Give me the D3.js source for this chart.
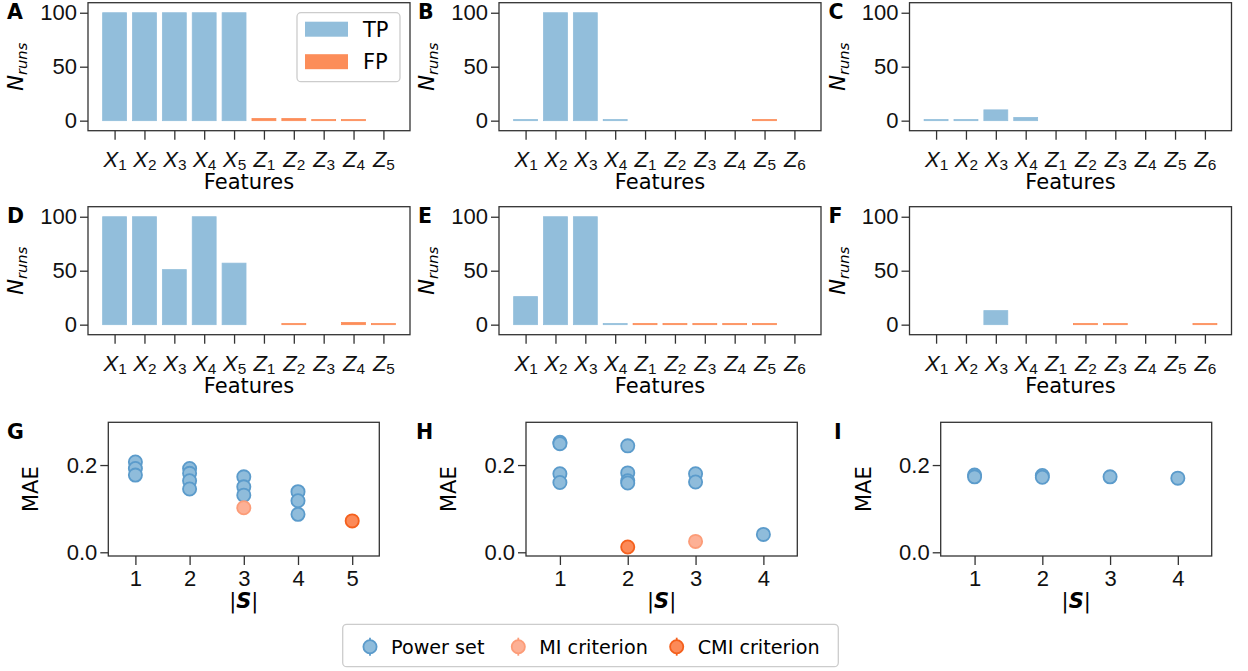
<!DOCTYPE html>
<html>
<head>
<meta charset="utf-8">
<script src="https://cdn.jsdelivr.net/npm/d3@7/dist/d3.min.js"></script>
<style>
  body { margin: 0; background: #fff; }
  svg { display: block; font-family: "DejaVu Sans", sans-serif; }
  .tick line { stroke: #333; stroke-width: 1.3; }
  .tick text { fill: #111; font-size: 22px; }
</style>
</head>
<body>
<div id="chart"></div>
<script>
// ---- data ----
const featA = ["X1", "X2", "X3", "X4", "X5", "Z1", "Z2", "Z3", "Z4", "Z5"]
const featB = ["X1", "X2", "X3", "X4", "Z1", "Z2", "Z3", "Z4", "Z5", "Z6"]

const runsA = [100, 100, 100, 100, 100, 2, 2, 1, 1, 0]
const runsB = [1, 100, 100, 1, 0, 0, 0, 0, 1, 0]
const runsC = [1, 1, 10, 3, 0, 0, 0, 0, 0, 0]
const runsD = [100, 100, 51, 100, 57, 0, 1, 0, 2, 1]
const runsE = [26, 100, 100, 1, 1, 1, 1, 1, 1, 0]
const runsF = [0, 0, 13, 0, 0, 1, 1, 0, 0, 1]

const yTicksRuns = [0, 50, 100]
const yTicksMae = [0.0, 0.2]

// G
const gPowerSize = [1, 1, 1, 2, 2, 2, 2, 3, 3, 3, 4, 4, 4]
const gPowerMae = [0.207, 0.192, 0.177, 0.192, 0.181, 0.164, 0.145, 0.173, 0.150, 0.131, 0.139, 0.118, 0.087]
const gMiSize = [3], gMiMae = [0.102]
const gCmiSize = [5], gCmiMae = [0.072]
// H
const hPowerSize = [1, 1, 1, 1, 2, 2, 2, 2, 3, 3, 4]
const hPowerMae = [0.252, 0.249, 0.180, 0.160, 0.244, 0.182, 0.164, 0.159, 0.180, 0.161, 0.041]
const hMiSize = [3], hMiMae = [0.025]
const hCmiSize = [2], hCmiMae = [0.012]
// I
const iPowerSize = [1, 1, 2, 2, 3, 4]
const iPowerMae = [0.177, 0.173, 0.176, 0.172, 0.173, 0.170]

const legendBar = ["TP", "FP"]
const legendMethods = ["Power set", "MI criterion", "CMI criterion"]

// ---- styles ----
const FONT = 21        // axis labels
const TICK = 22        // tick labels (see css)
const LEG = 19.2       // bottom legend
const colTP = "#92bedb", colFP = "#fc8d59"
const methodStyle = {
  "Power set": { fill: "#8fbcdb", stroke: "#5b9bcb" },
  "MI criterion": { fill: "#fdb095", stroke: "#fc9c78" },
  "CMI criterion": { fill: "#fc8a58", stroke: "#f4601d" }
}

const svg = d3.select("#chart").append("svg")
  .attr("width", 1248)
  .attr("height", 671)

const AppendG = (parent, left, top, className = "") => {
  return parent.append("g")
    .attr("transform", "translate(" + left + "," + top + ")")
    .attr("class", className)
}

function styleAxis(g) {
  g.select(".domain").remove()
}

function panelLetter(letter, x, y) {
  svg.append("text")
    .attr("x", x).attr("y", y)
    .attr("font-size", 20.5)
    .attr("font-weight", "bold")
    .text(letter)
}

function drawFrame(left, top, right, bottom) {
  svg.append("rect")
    .attr("x", left).attr("y", top)
    .attr("width", right - left).attr("height", bottom - top)
    .attr("fill", "none")
    .attr("stroke", "#333")
    .attr("stroke-width", 1.3)
}

// bar panel: counts of runs per feature
function drawBarPanel(opts) {
  const { left, right, top, bottom, feats, runs, letter } = opts
  const x = d3.scaleLinear().domain([-0.89, feats.length - 1 + 0.89]).range([left, right])
  const y = d3.scaleLinear().domain([-9.3, 109.3]).range([bottom, top])
  const bw = x(0.8) - x(0)

  svg.append("g").selectAll("rect")
    .data(runs.map((v, i) => ({ v, i, f: feats[i] })).filter(d => d.v > 0))
    .join("rect")
    .attr("x", d => x(d.i) - bw / 2)
    .attr("width", bw)
    .attr("y", d => y(d.v))
    .attr("height", d => y(0) - y(d.v))
    .attr("fill", d => d.f[0] === "X" ? colTP : colFP)
    .attr("stroke", d => d.f[0] === "X" ? colTP : colFP)
    .attr("stroke-width", 0.8)

  const yAxis = d3.axisLeft(y).tickValues(yTicksRuns).tickSize(8).tickPadding(3)
  AppendG(svg, left, 0, "y axis").call(yAxis).call(styleAxis)

  const xAxis = d3.axisBottom(x).tickValues(d3.range(feats.length)).tickSize(9).tickPadding(5)
    .tickFormat(i => feats[i])
  const gx = AppendG(svg, 0, bottom, "x axis").call(xAxis).call(styleAxis)
  gx.selectAll(".tick text").each(function (i) {
    const t = d3.select(this).text(null).attr("dy", null).attr("y", 36)
    t.append("tspan").attr("font-style", "italic").text(feats[i][0])
    t.append("tspan").attr("font-size", TICK * 0.7).attr("dy", 3.5).text(feats[i].slice(1))
  })

  drawFrame(left, top, right, bottom)

  svg.append("text")
    .attr("x", (left + right) / 2).attr("y", bottom + 58.5)
    .attr("text-anchor", "middle").attr("font-size", FONT)
    .text("Features")

  const ly = svg.append("text")
    .attr("transform", "translate(" + (left - 65) + "," + ((top + bottom) / 2) + ") rotate(-90)")
    .attr("text-anchor", "middle").attr("font-size", FONT)
  ly.append("tspan").attr("font-style", "italic").text("N")
  ly.append("tspan").attr("font-style", "italic").attr("font-size", FONT * 0.7).attr("dy", 4).text("runs")

  panelLetter(letter, left - 81, top + 16.5)
}

// scatter panel: MAE vs subset size
function drawScatterPanel(opts) {
  const { left, right, top, bottom, nSize, series, letter, letterX } = opts
  const x = d3.scaleLinear().domain([0.5, nSize + 0.5]).range([left, right])
  const y = d3.scaleLinear().domain([-0.0085, 0.298]).range([bottom, top])

  series.forEach(s => {
    const st = methodStyle[s.name]
    svg.append("g").selectAll("circle")
      .data(s.size.map((v, i) => ({ s: v, m: s.mae[i] })))
      .join("circle")
      .attr("cx", d => x(d.s))
      .attr("cy", d => y(d.m))
      .attr("r", 6.6)
      .attr("fill", st.fill)
      .attr("stroke", st.stroke)
      .attr("stroke-width", 1.8)
  })

  const yAxis = d3.axisLeft(y).tickValues(yTicksMae).tickSize(8).tickPadding(3).tickFormat(d3.format(".1f"))
  AppendG(svg, left, 0, "y axis").call(yAxis).call(styleAxis)
  const xAxis = d3.axisBottom(x).tickValues(d3.range(1, nSize + 1)).tickSize(9).tickPadding(5)
    .tickFormat(d3.format("d"))
  const gx = AppendG(svg, 0, bottom, "x axis").call(xAxis).call(styleAxis)
  gx.selectAll(".tick text").attr("dy", null).attr("y", 29.5)

  drawFrame(left, top, right, bottom)

  const xl = svg.append("text")
    .attr("x", (left + right) / 2).attr("y", bottom + 51.5)
    .attr("text-anchor", "middle").attr("font-size", FONT)
  xl.append("tspan").text("|")
  xl.append("tspan").attr("font-weight", "bold").attr("font-style", "italic").text("S")
  xl.append("tspan").text("|")

  svg.append("text")
    .attr("transform", "translate(" + (left - 70) + "," + ((top + bottom) / 2) + ") rotate(-90)")
    .attr("text-anchor", "middle").attr("font-size", FONT)
    .text("MAE")

  panelLetter(letter, letterX, top + 16.5)
}

// ---- layout ----
const colLeft = [88, 499, 909.5]
const barW = 322
const rowTop = [2.7, 206.7]
const barH = 128

drawBarPanel({ left: colLeft[0], right: colLeft[0] + barW, top: rowTop[0], bottom: rowTop[0] + barH, feats: featA, runs: runsA, letter: "A" })
drawBarPanel({ left: colLeft[1], right: colLeft[1] + barW, top: rowTop[0], bottom: rowTop[0] + barH, feats: featB, runs: runsB, letter: "B" })
drawBarPanel({ left: colLeft[2], right: colLeft[2] + barW, top: rowTop[0], bottom: rowTop[0] + barH, feats: featB, runs: runsC, letter: "C" })
drawBarPanel({ left: colLeft[0], right: colLeft[0] + barW, top: rowTop[1], bottom: rowTop[1] + barH, feats: featA, runs: runsD, letter: "D" })
drawBarPanel({ left: colLeft[1], right: colLeft[1] + barW, top: rowTop[1], bottom: rowTop[1] + barH, feats: featB, runs: runsE, letter: "E" })
drawBarPanel({ left: colLeft[2], right: colLeft[2] + barW, top: rowTop[1], bottom: rowTop[1] + barH, feats: featB, runs: runsF, letter: "F" })

const scTop = 422.3, scBottom = 556
drawScatterPanel({
  left: 108.3, right: 379.3, top: scTop, bottom: scBottom, nSize: 5, letter: "G", letterX: 7,
  series: [
    { name: "Power set", size: gPowerSize, mae: gPowerMae },
    { name: "MI criterion", size: gMiSize, mae: gMiMae },
    { name: "CMI criterion", size: gCmiSize, mae: gCmiMae }
  ]
})
drawScatterPanel({
  left: 526, right: 797.3, top: scTop, bottom: scBottom, nSize: 4, letter: "H", letterX: 416,
  series: [
    { name: "Power set", size: hPowerSize, mae: hPowerMae },
    { name: "MI criterion", size: hMiSize, mae: hMiMae },
    { name: "CMI criterion", size: hCmiSize, mae: hCmiMae }
  ]
})
drawScatterPanel({
  left: 940.7, right: 1211.7, top: scTop, bottom: scBottom, nSize: 4, letter: "I", letterX: 834,
  series: [
    { name: "Power set", size: iPowerSize, mae: iPowerMae }
  ]
})

// legend in panel A
const legA = AppendG(svg, 297, 12.7, "legend")
legA.append("rect")
  .attr("width", 103).attr("height", 69).attr("rx", 4)
  .attr("fill", "#fff").attr("fill-opacity", 0.8)
  .attr("stroke", "#ccc").attr("stroke-width", 1.3)
legendBar.forEach((name, i) => {
  legA.append("rect")
    .attr("x", 8).attr("y", 9 + i * 32.5)
    .attr("width", 43).attr("height", 15)
    .attr("fill", i === 0 ? colTP : colFP)
  legA.append("text")
    .attr("x", 66).attr("y", 24 + i * 32.5)
    .attr("font-size", FONT)
    .text(name)
})

// bottom legend
const legB = AppendG(svg, 342.7, 624.3, "legend")
legB.append("rect")
  .attr("width", 495.6).attr("height", 42.4).attr("rx", 4)
  .attr("fill", "#fff")
  .attr("stroke", "#ccc").attr("stroke-width", 1.3)
const legX = [27.3, 175.6, 334]
legendMethods.forEach((name, i) => {
  const st = methodStyle[name]
  const g = AppendG(legB, legX[i], 22.4)
  g.append("line").attr("y1", -9).attr("y2", 9)
    .attr("stroke", st.stroke).attr("stroke-width", 1.8)
  g.append("circle").attr("r", 6.6)
    .attr("fill", st.fill).attr("stroke", st.stroke).attr("stroke-width", 1.8)
  g.append("text")
    .attr("x", 21).attr("y", 7)
    .attr("font-size", LEG)
    .text(name)
})
</script>
</body>
</html>
